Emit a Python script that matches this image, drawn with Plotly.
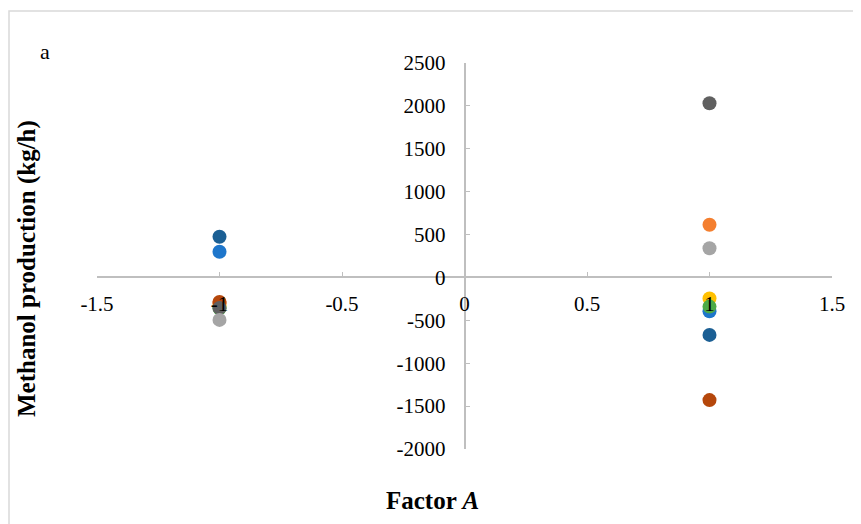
import plotly.graph_objects as go

# Factor levels
factor_levels = [-1, 1]

# Series values (kg/h) at factor levels -1 and +1, in drawing order
series_names = ["Orange", "Yellow", "Blue", "Green", "Brown", "Dark gray", "Light gray", "Dark blue"]
series_colors = ["#F47F2F", "#FFC000", "#1E76CB", "#4CAA48", "#B5470B", "#606060", "#A5A5A5", "#1B5F94"]
orange_vals = [-300, 615]
yellow_vals = [-330, -245]
blue_vals = [300, -395]
green_vals = [-360, -340]
brown_vals = [-285, -1430]
darkgray_vals = [-355, 2030]
lightgray_vals = [-495, 340]
darkblue_vals = [475, -670]
all_vals = [orange_vals, yellow_vals, blue_vals, green_vals, brown_vals,
            darkgray_vals, lightgray_vals, darkblue_vals]

x_ticks = [-1.5, -1, -0.5, 0, 0.5, 1, 1.5]
x_ticklabels = ["-1.5", "-1", "-0.5", "0", "0.5", "1", "1.5"]
y_ticks = [-2000, -1500, -1000, -500, 0, 500, 1000, 1500, 2000, 2500]
y_ticklabels = ["-2000", "-1500", "-1000", "-500", "0", "500", "1000", "1500", "2000", "2500"]

fig = go.Figure()
for name, color, vals in zip(series_names, series_colors, all_vals):
    fig.add_trace(go.Scatter(
        x=factor_levels, y=vals, mode="markers", name=name,
        marker=dict(color=color, size=14, line=dict(width=0)),
        showlegend=False, cliponaxis=False))

# page offset (body margin) compensation: page coord = figure coord + OFF
OFF = 8
PAGE_W, PAGE_H = 861, 524
W, H = PAGE_W - OFF, PAGE_H - OFF
# plot area in page pixels
PL, PR, PT, PB = 97, 832, 63, 449
L, T = PL - OFF, PT - OFF
R = W - (PR - OFF)
B = H - (PB - OFF)
pw, ph = PR - PL, PB - PT

def px(x):
    return (x - PL) / pw

def py(y):
    return (PB - y) / ph

font = "Liberation Serif, Times New Roman, serif"
axis_col = "#BFBFBF"

fig.update_layout(
    width=W, height=H,
    margin=dict(l=L, r=R, t=T, b=B),
    paper_bgcolor="white", plot_bgcolor="white",
    font=dict(family=font, size=21, color="black"),
    xaxis=dict(range=[-1.5, 1.5], tickvals=x_ticks, ticktext=x_ticklabels,
               showgrid=False, zeroline=False, showline=True, linecolor=axis_col,
               linewidth=1.5, ticks="inside", ticklen=5, tickcolor=axis_col,
               anchor="free", position=(0 - (-2000)) / 4500,
               ticklabelstandoff=8, tickfont=dict(family=font, size=21)),
    yaxis=dict(range=[-2000, 2500], tickvals=y_ticks, ticktext=y_ticklabels,
               showgrid=False, zeroline=False, showline=True, linecolor=axis_col,
               linewidth=1.5, ticks="inside", ticklen=5, tickcolor=axis_col,
               anchor="free", position=0.5,
               ticklabelstandoff=14, tickfont=dict(family=font, size=21)),
    shapes=[dict(type="rect", xref="paper", yref="paper",
                 x0=px(9), x1=px(PAGE_W + 20), y0=py(PAGE_H + 20), y1=py(11),
                 line=dict(color="#D9D9D9", width=1.5), fillcolor="rgba(0,0,0,0)",
                 layer="below")],
    annotations=[
        dict(text="a", xref="paper", yref="paper", x=px(45), y=py(52),
             xanchor="center", yanchor="middle",
             showarrow=False, font=dict(family=font, size=22)),
        dict(text="<b>Factor <i>A</i></b>", xref="paper", yref="paper",
             x=px(432), y=py(500), xanchor="center", yanchor="middle",
             showarrow=False, font=dict(family=font, size=25)),
        dict(text="<b>Methanol production (kg/h)</b>", xref="paper", yref="paper",
             x=px(27), y=py(269), xanchor="center", yanchor="middle",
             showarrow=False, textangle=-90,
             font=dict(family=font, size=25)),
    ],
)

fig.write_html("out.html")
